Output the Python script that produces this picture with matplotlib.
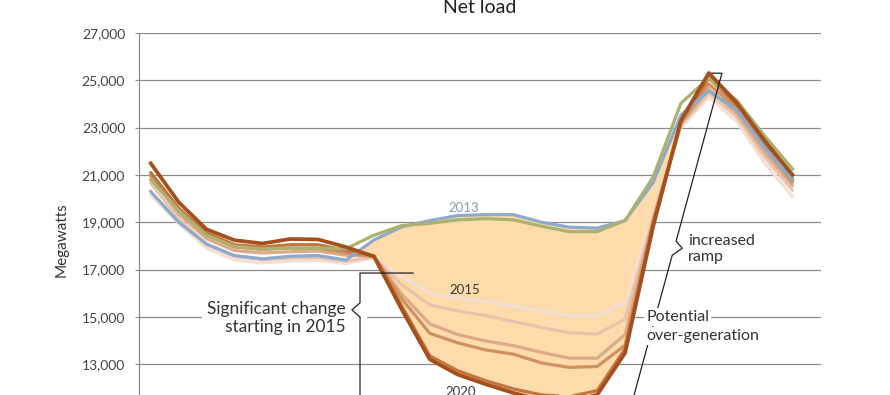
import matplotlib
matplotlib.use("Agg")
import matplotlib.pyplot as plt
from matplotlib.patches import Rectangle

plt.rcParams['font.family'] = ['Lato', 'DejaVu Sans']

hours = list(range(24))

# net load in MW
load_2012 = [20800, 19500, 18450, 17980, 17870, 17910, 17910, 17880, 18450, 18860,
             18950, 19100, 19150, 19100, 18830, 18600, 18600, 19070, 20900, 24030,
             25100, 24150, 22650, 21250]
load_2013 = [20300, 19000, 18080, 17590, 17450, 17560, 17590, 17400, 18250, 18800,
             19070, 19280, 19320, 19320, 19000, 18790, 18750, 19070, 20670, 23530,
             24550, 23750, 22150, 20800]
load_2015 = [20150, 18950, 17900, 17400, 17280, 17350, 17380, 17250, 17500, 16700,
             16000, 15800, 15650, 15450, 15250, 15050, 15050, 15600, 19300, 23000,
             24300, 23250, 21500, 20080]
load_2016 = [20650, 19150, 18050, 17550, 17420, 17480, 17500, 17350, 17520, 16350,
             15500, 15250, 15050, 14800, 14550, 14330, 14270, 14900, 19200, 23100,
             24450, 23450, 21750, 20350]
load_2017 = [20950, 19350, 18300, 17800, 17700, 17750, 17780, 17600, 17550, 15950,
             14700, 14250, 13980, 13780, 13500, 13250, 13250, 14250, 19100, 23150,
             24650, 23600, 21950, 20550]
load_2018 = [21000, 19500, 18450, 17950, 17850, 17900, 17900, 17700, 17560, 15750,
             14300, 13900, 13600, 13420, 13050, 12860, 12900, 13800, 19000, 23200,
             24850, 23800, 22150, 20700]
load_2019 = [21100, 19600, 18550, 18050, 17950, 18050, 18050, 17800, 17580, 15450,
             13350, 12720, 12300, 11950, 11700, 11620, 11880, 13650, 18900, 23250,
             25100, 23950, 22300, 20850]
load_2020 = [21490, 19850, 18700, 18240, 18100, 18290, 18270, 17950, 17550, 15300,
             13200, 12560, 12150, 11780, 11480, 11420, 11700, 13470, 18800, 23300,
             25310, 24050, 22450, 21000]

future = [load_2015, load_2016, load_2017, load_2018, load_2019]
future_colors = ['#f4e0d2', '#e8c4ad', '#dcaa88', '#cf9062', '#c2763f']

fig = plt.figure(figsize=(8.9, 3.95), dpi=100)
ax = fig.add_axes([139 / 890, -16.4 / 395, 682 / 890, 378.4 / 395])

ax.fill_between(hours, load_2013, load_2020,
                where=[a > b for a, b in zip(load_2013, load_2020)],
                interpolate=True, color='#fddbab', lw=0, zorder=2)

for vals, c in zip(future, future_colors):
    ax.plot(hours, vals, color=c, lw=2.3, zorder=3, solid_capstyle='round')
ax.plot(hours, load_2013, color='#8eaacb', lw=2.3, zorder=4)
ax.plot(hours, load_2012, color='#adb170', lw=2.3, zorder=4)
ax.plot(hours, load_2020, color='#a3501d', lw=2.7, zorder=5)

ax.set_xlim(-0.42, 24.02)
ax.set_ylim(11000, 27000)
ax.set_yticks(range(13000, 27001, 2000))
ax.set_yticklabels([f'{v:,}' for v in range(13000, 27001, 2000)])
ax.set_xticks([])
ax.grid(axis='y', color='#8c8c8c', lw=0.9)
ax.set_axisbelow(True)
for s in ['top', 'right', 'bottom']:
    ax.spines[s].set_visible(False)
ax.spines['left'].set_color('#8c8c8c')
ax.spines['left'].set_linewidth(0.9)
ax.tick_params(axis='y', length=3, color='#8c8c8c', labelsize=10,
               labelcolor='#444444', pad=7)

fig.text(480 / 890, 1 - 12.7 / 395, 'Net load', ha='center', va='baseline',
         fontsize=14, color='#222222')
fig.text(62 / 890, 1 - 240 / 395, 'Megawatts', rotation=90, ha='center',
         va='center', fontsize=11, color='#333333')

# year labels
ax.text(11.23, 19600, '2013', color='#8c9db0', fontsize=9.5, ha='center', va='center')
ax.text(11.24, 16130, '2015', color='#3a3a3a', fontsize=9.5, ha='center', va='center')
ax.text(11.10, 11820, '2020', color='#3a3a3a', fontsize=9.5, ha='center', va='center')

# "significant change" bracket
ax.add_patch(Rectangle((1.84, 14600), 5.9, 1000, facecolor='white',
                       edgecolor='none', zorder=1))
ax.plot([9.4, 7.5, 7.5, 7.21, 7.5, 7.5],
        [16850, 16850, 15590, 15290, 14990, 10500],
        color='#222222', lw=0.9, zorder=6, clip_on=False)
ax.text(7.0, 14950, 'Significant change\nstarting in 2015', ha='right',
        va='center', multialignment='right', fontsize=12.5, color='#333333',
        linespacing=1.1, zorder=7)

# "increased ramp" bracket running from the peak down to the midday low
top_x, top_y = 20.47, 25300
bot_x, bot_y = 17.16, 11000
def line_x(v):
    return top_x + (top_y - v) / (top_y - bot_y) * (bot_x - top_x)
notch = 17900
ax.plot([20.11, top_x, line_x(notch + 300), line_x(notch) + 0.29,
         line_x(notch - 300), bot_x],
        [top_y, top_y, notch + 300, notch, notch - 300, bot_y],
        color='#222222', lw=0.9, zorder=6)
ax.text(19.26, 17870, 'increased\nramp', ha='left', va='center',
        fontsize=11.5, color='#333333', linespacing=1.15, zorder=7)

box = dict(facecolor='white', edgecolor='none', pad=1.5)
ax.text(17.75, 14980, 'Potential', ha='left', va='center', fontsize=11.5,
        color='#333333', bbox=box, zorder=7)
ax.text(17.75, 14180, 'over-generation', ha='left', va='center', fontsize=11.5,
        color='#333333', bbox=box, zorder=7)

fig.savefig('out.png', dpi=100)
